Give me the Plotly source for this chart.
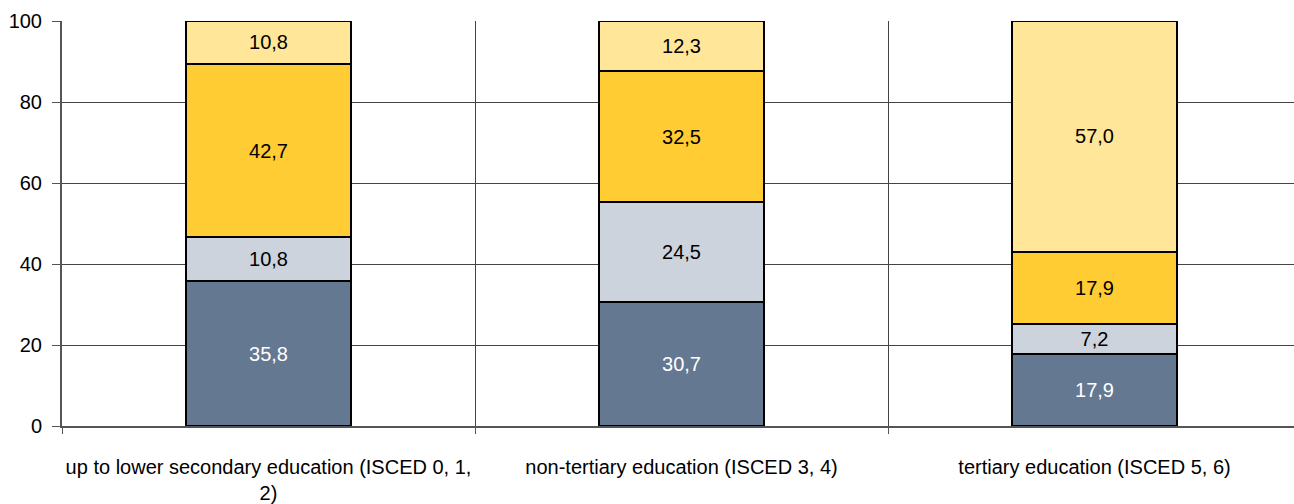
import plotly.graph_objects as go

# Education levels (x categories)
categories = [
    "up to lower secondary education (ISCED 0, 1,<br>2)",
    "non-tertiary education (ISCED 3, 4)",
    "tertiary education (ISCED 5, 6)",
]

# Stacked shares (%), bottom to top
seg1 = [35.8, 30.7, 17.9]
seg2 = [10.8, 24.5, 7.2]
seg3 = [42.7, 32.5, 17.9]
seg4 = [10.8, 12.3, 57.0]

y_ticks = [0, 20, 40, 60, 80, 100]

series = [
    (seg1, "#647892", "white"),
    (seg2, "#CCD3DD", "black"),
    (seg3, "#FFCC33", "black"),
    (seg4, "#FFE699", "black"),
]

FONT = "Liberation Sans, Arial"
FS = 20

positions = list(range(len(categories)))

fig = go.Figure()
for vals, color, tcolor in series:
    fig.add_trace(go.Bar(
        x=positions,
        y=vals,
        width=0.4,
        marker=dict(color=color, line=dict(color="black", width=2)),
        text=vals,
        texttemplate="%{y:.1f}",
        textposition="inside",
        insidetextanchor="middle",
        textangle=0,
        constraintext="none",
        textfont=dict(color=tcolor, size=FS, family=FONT),
        cliponaxis=True,
        showlegend=False,
        hoverinfo="skip",
    ))

# Boundaries between categories for gridlines and tick marks
boundaries = [p - 0.5 for p in positions] + [positions[-1] + 0.5]

fig.update_layout(
    barmode="stack",
    width=1294,
    height=504,
    margin=dict(l=62, r=0, t=21, b=78),
    paper_bgcolor="white",
    plot_bgcolor="white",
    separators=", ",
    font=dict(family=FONT, size=FS, color="black"),
    xaxis=dict(
        range=[-0.5, 2.483],
        tickmode="array",
        tickvals=positions,
        ticktext=categories,
        tickangle=0,
        automargin=False,
        showgrid=False,
        ticks="",
        ticklabelstandoff=22,
        showline=True,
        linecolor="#555555",
        linewidth=2,
        tickfont=dict(size=FS),
        zeroline=False,
    ),
    xaxis2=dict(
        overlaying="x",
        matches="x",
        side="bottom",
        tickmode="array",
        tickvals=boundaries,
        showticklabels=False,
        ticks="outside",
        ticklen=7,
        tickcolor="#555555",
        showgrid=True,
        gridcolor="#444444",
        gridwidth=1,
        zeroline=False,
    ),
    yaxis=dict(
        range=[0, 100],
        tickmode="array",
        tickvals=y_ticks,
        automargin=False,
        ticks="outside",
        ticklen=8,
        tickcolor="#555555",
        ticklabelstandoff=6,
        showgrid=True,
        gridcolor="#444444",
        gridwidth=1,
        showline=True,
        linecolor="#555555",
        linewidth=2,
        zeroline=False,
        tickfont=dict(size=FS),
    ),
)

# Invisible trace to activate the boundary axis
fig.add_trace(go.Scatter(x=[boundaries[0]], y=[0], xaxis="x2", mode="markers",
                         marker=dict(opacity=0), showlegend=False, hoverinfo="skip"))

fig.write_html("out.html")
